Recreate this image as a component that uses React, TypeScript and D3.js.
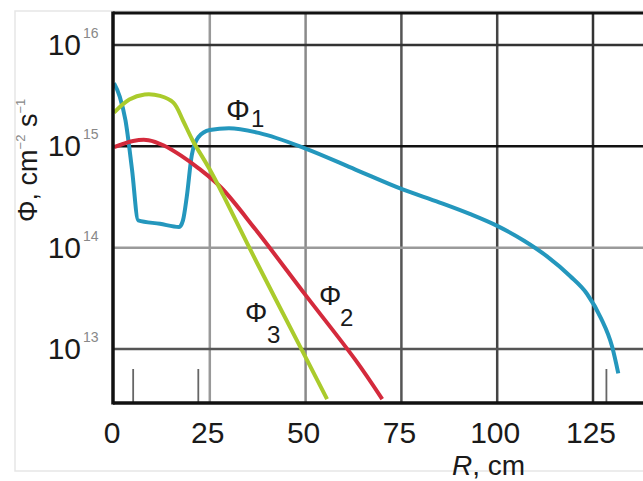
import * as d3 from "d3";

// radius R, cm
const rTicks = [0, 25, 50, 75, 100, 125];
const decades = [16, 15, 14, 13];
const minorTicks = [5, 22, 128.5];

// Φ1 - blue
const r1 = [0, 1.5, 3, 4.7, 6.3, 12, 17, 18, 19, 20.3, 22, 25, 30, 38, 50, 63, 75, 85, 93, 100, 107, 113, 119, 123.5, 127, 130, 131.6];
const phi1 = [4.2e15, 3.1e15, 1.8e15, 5.9e14, 1.86e14, 1.72e14, 1.6e14, 1.86e14, 3.2e14, 8.2e14, 1.23e15, 1.45e15, 1.51e15, 1.35e15, 9.5e14, 5.9e14, 3.8e14, 2.79e14, 2.14e14, 1.64e14, 1.17e14, 8.2e13, 5.25e13, 3.47e13, 2.04e13, 1.05e13, 5.75e12];

// Φ2 - red
const r2 = [0, 5, 9, 13, 17.5, 22, 28, 37, 50, 63, 70];
const phi2 = [9.8e14, 1.13e15, 1.15e15, 1.02e15, 8.1e14, 6.1e14, 3.9e14, 1.5e14, 3.4e13, 7.8e12, 3.2e12];

// Φ3 - yellow green
const r3 = [0, 4, 8, 12, 15.5, 18, 20.5, 25, 28.5, 37.3, 48.6, 55.6];
const phi3 = [2.15e15, 2.9e15, 3.25e15, 3.15e15, 2.7e15, 1.8e15, 1.15e15, 5.9e14, 3.3e14, 7.1e13, 1.05e13, 3.2e12];

const W = 643;
const H = 481;
const plot = { left: 113, top: 13, right: 643, bottom: 403 };
const font = "'Liberation Sans', Arial, sans-serif";

const gridColorsX = ["#999", "#8a8a8a", "#555", "#444", "#333"];
const gridColorsY = ["#333", "#111", "#9a9a9a", "#555"];

export default function App() {
  const x = d3.scaleLinear().domain([0, 125]).range([114, 593]);
  const y = d3.scaleLog().domain([1e13, 1e16]).range([349, 45]);

  const series = [
    { r: r1, v: phi1, color: "#2497bd", curve: d3.curveMonotoneX },
    { r: r2, v: phi2, color: "#d42a3c", curve: d3.curveCatmullRom.alpha(0.5) },
    { r: r3, v: phi3, color: "#aacb2c", curve: d3.curveCatmullRom.alpha(0.5) },
  ];

  const makePath = (r: number[], v: number[], curve: d3.CurveFactory) =>
    d3
      .line<number>()
      .x((_, i) => x(r[i]))
      .y((d) => y(d))
      .curve(curve)(v) || "";

  return (
    <svg
      width={W}
      height={H}
      style={{ position: "absolute", left: 0, top: 0, background: "#fff" }}
      fontFamily={font}
    >
      <defs>
        <clipPath id="plotclip">
          <rect x={plot.left} y={plot.top} width={plot.right - plot.left} height={plot.bottom - plot.top} />
        </clipPath>
      </defs>

      {/* faint outer frame */}
      <rect x={15} y={11} width={700} height={460} fill="none" stroke="#e6e6e6" strokeWidth={1.5} />

      {/* vertical grid */}
      {rTicks.slice(1).map((t, i) => (
        <line key={`gx${t}`} x1={x(t)} x2={x(t)} y1={plot.top} y2={plot.bottom} stroke={gridColorsX[i]} strokeWidth={2.5} />
      ))}
      {/* horizontal grid */}
      {decades.map((d, i) => (
        <line key={`gy${d}`} x1={plot.left} x2={plot.right} y1={y(10 ** d)} y2={y(10 ** d)} stroke={gridColorsY[i]} strokeWidth={2.5} />
      ))}
      {/* short ticks at the bottom */}
      {minorTicks.map((t) => (
        <line key={`mt${t}`} x1={x(t)} x2={x(t)} y1={plot.bottom - 34} y2={plot.bottom} stroke="#666" strokeWidth={1.8} />
      ))}

      {/* curves */}
      <g clipPath="url(#plotclip)">
        {series.map((s, i) => (
          <path key={i} d={makePath(s.r, s.v, s.curve)} fill="none" stroke={s.color} strokeWidth={4} strokeLinejoin="round" />
        ))}
      </g>

      {/* frame */}
      <line x1={plot.left} x2={plot.right} y1={plot.top} y2={plot.top} stroke="#111" strokeWidth={3} />
      <line x1={plot.left} x2={plot.left} y1={plot.top - 1.5} y2={plot.bottom + 1.5} stroke="#111" strokeWidth={3.5} />
      <line x1={plot.left} x2={plot.right} y1={plot.bottom} y2={plot.bottom} stroke="#111" strokeWidth={3.5} />

      {/* x tick labels */}
      {rTicks.map((t) => (
        <text key={`xt${t}`} x={x(t) - 2} y={443} fontSize={30} textAnchor="middle" fill="#1a1a1a">
          {t}
        </text>
      ))}
      <text x={452} y={475} fontSize={28} fill="#1a1a1a">
        <tspan fontStyle="italic">R</tspan>, cm
      </text>

      {/* y tick labels */}
      {decades.map((d) => (
        <g key={`yt${d}`}>
          <text x={81} y={y(10 ** d) + 10} fontSize={30} textAnchor="end" fill="#1a1a1a">
            10
          </text>
          <text x={83} y={y(10 ** d) - 7} fontSize={14} fill="#888">
            {d}
          </text>
        </g>
      ))}
      <text transform="translate(37,222) rotate(-90)" fontSize={27} fill="#1a1a1a">
        Φ, cm
        <tspan fontSize={13} dy={-12} fill="#888">−2</tspan>
        <tspan dy={12}> s</tspan>
        <tspan fontSize={13} dy={-12} fill="#888">−1</tspan>
      </text>

      {/* curve labels */}
      <text x={226} y={120} fontSize={30} fill="#1a1a1a">Φ</text>
      <text x={251} y={127} fontSize={24} fill="#1a1a1a">1</text>
      <text x={319} y={305} fontSize={28} fill="#1a1a1a">Φ</text>
      <text x={340} y={326} fontSize={24} fill="#1a1a1a">2</text>
      <text x={245} y={322} fontSize={28} fill="#1a1a1a">Φ</text>
      <text x={267} y={343} fontSize={24} fill="#1a1a1a">3</text>
    </svg>
  );
}
